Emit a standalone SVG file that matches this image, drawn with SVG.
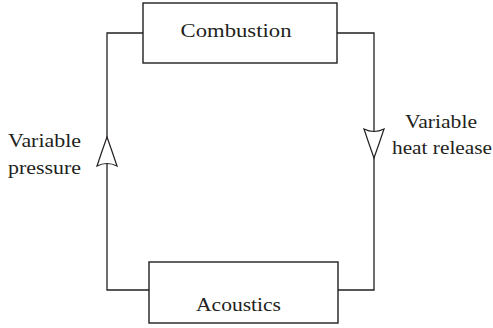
<svg xmlns="http://www.w3.org/2000/svg" xmlns:xlink="http://www.w3.org/1999/xlink" width="493" height="328" viewBox="0 0 493 328">
<style>
.box{fill:#fff;stroke:#231f20;stroke-width:1.4}
.wire{fill:none;stroke:#231f20;stroke-width:1.3}
.head{fill:#fff;stroke:#231f20;stroke-width:1.2;stroke-linejoin:miter}
text{font-family:"Liberation Serif","Times New Roman",serif;font-size:18.5px;fill:#231f20}
</style>
<defs>
<path id="ahUp" d="M0,0 Q-5,14 -10,29 Q0,24 10,29 Q5,14 0,0 Z"/>
</defs>
<rect width="493" height="328" fill="#fff"/>
<g id="connectors">
<path class="wire" d="M143,33 H107 V290 H149"/>
<path class="wire" d="M337,33 H374 V290 H338"/>
<use class="head" xlink:href="#ahUp" transform="translate(107,137)"/>
<use class="head" xlink:href="#ahUp" transform="translate(374,158) rotate(180)"/>
</g>
<g id="combustion">
<rect class="box" x="143" y="3" width="194" height="60"/>
<text x="236" y="37" text-anchor="middle" textLength="111" lengthAdjust="spacingAndGlyphs">Combustion</text>
</g>
<g id="acoustics">
<rect class="box" x="149" y="262" width="189" height="61"/>
<text x="238.5" y="311" text-anchor="middle" textLength="85" lengthAdjust="spacingAndGlyphs">Acoustics</text>
</g>
<g id="label-pressure">
<text x="8" y="147" textLength="73" lengthAdjust="spacingAndGlyphs">Variable</text>
<text x="8" y="174" textLength="73" lengthAdjust="spacingAndGlyphs">pressure</text>
</g>
<g id="label-heat">
<text x="405" y="128" textLength="72" lengthAdjust="spacingAndGlyphs">Variable</text>
<text x="392" y="154" textLength="100" lengthAdjust="spacingAndGlyphs">heat release</text>
</g>
</svg>
